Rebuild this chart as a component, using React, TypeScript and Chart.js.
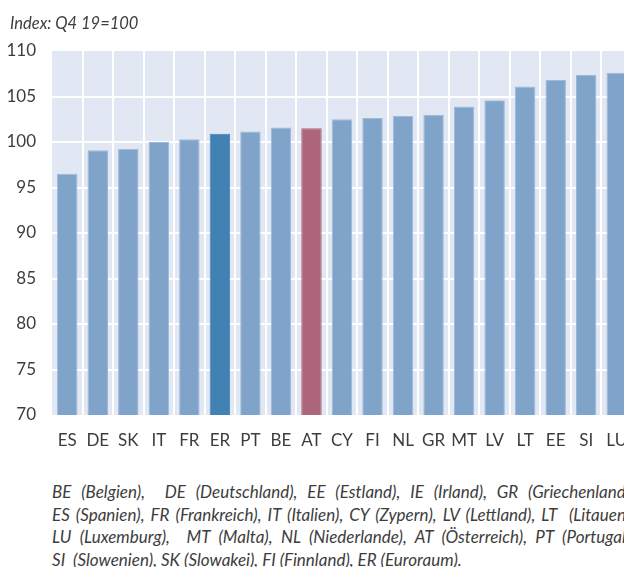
import React, { useEffect, useRef } from "react";
import { Chart, registerables } from "chart.js";

Chart.register(...registerables);

const categories = ["ES", "DE", "SK", "IT", "FR", "ER", "PT", "BE", "AT", "CY", "FI", "NL", "GR", "MT", "LV", "LT", "EE", "SI", "LU"];
const values = [96.5, 99.1, 99.25, 100.0, 100.3, 100.9, 101.15, 101.6, 101.5, 102.5, 102.65, 102.85, 103.0, 103.9, 104.6, 106.1, 106.8, 107.35, 107.6];
const yMin = 70;
const yMax = 110;
const yStep = 5;
const euroCode = "ER";
const austriaCode = "AT";
const unitLabel = "Index: Q4 19=100";
const footnoteLines = [
  "BE (Belgien),  DE (Deutschland), EE (Estland), IE (Irland), GR (Griechenland),",
  "ES (Spanien), FR (Frankreich), IT (Italien), CY (Zypern), LV (Lettland), LT  (Litauen),",
  "LU (Luxemburg),  MT (Malta), NL (Niederlande), AT (Österreich), PT (Portugal),",
  "SI  (Slowenien), SK (Slowakei), FI (Finnland), ER (Euroraum).",
];

const FONT = "Lato, 'Open Sans', sans-serif";
const TEXT = "#3d3d3d";

const bgPlugin = {
  id: "plotBg",
  beforeDraw(chart: any) {
    const { ctx, chartArea } = chart;
    if (!chartArea) return;
    ctx.save();
    ctx.fillStyle = "#e1e7f3";
    ctx.fillRect(chartArea.left, chartArea.top, chartArea.right - chartArea.left, chartArea.bottom - chartArea.top);
    ctx.restore();
  },
};

export default function App() {
  const ref = useRef<HTMLCanvasElement | null>(null);

  useEffect(() => {
    document.body.style.margin = "0";
    const canvas = ref.current;
    if (!canvas) return;
    const colors = categories.map((c) => (c === euroCode ? "#4281b4" : c === austriaCode ? "#ad6579" : "#7fa3c9"));
    const borders = categories.map((c) => (c === euroCode ? "#4281b4" : c === austriaCode ? "#ad6579" : "#9fb9d8"));
    const chart = new Chart(canvas, {
      type: "bar",
      data: {
        labels: categories,
        datasets: [
          {
            data: values,
            backgroundColor: colors,
            borderColor: borders,
            borderWidth: 1,
            categoryPercentage: 1,
            barPercentage: 0.67,
          },
        ],
      },
      options: {
        animation: false,
        responsive: false,
        devicePixelRatio: 1,
        layout: { padding: { top: 51, left: 0, right: 0, bottom: 0 } },
        plugins: { legend: { display: false }, tooltip: { enabled: false }, title: { display: false } },
        scales: {
          x: {
            border: { display: false },
            grid: {
              drawTicks: false,
              lineWidth: 2,
              color: (c: any) => (c.index === 0 ? "rgba(0,0,0,0)" : "#ffffff"),
            },
            ticks: { color: TEXT, font: { family: FONT, size: 17 }, padding: 15, maxRotation: 0, autoSkip: false },
            afterFit: (s: any) => {
              s.height = 45;
              s.paddingLeft = 0;
              s.paddingRight = 0;
            },
          },
          y: {
            min: yMin,
            max: yMax,
            border: { display: false },
            grid: {
              drawTicks: false,
              lineWidth: 2,
              color: (c: any) =>
                c.tick && (c.tick.value === yMin || c.tick.value === yMax) ? "rgba(0,0,0,0)" : "#ffffff",
            },
            ticks: { stepSize: yStep, color: TEXT, font: { family: FONT, size: 17 }, padding: 16 },
            afterFit: (s: any) => {
              s.width = 52;
            },
          },
        },
      },
      plugins: [bgPlugin],
    });
    return () => chart.destroy();
  }, []);

  return (
    <div style={{ position: "relative", width: 624, height: 567, overflow: "hidden", background: "#fff" }}>
      <canvas ref={ref} width={632} height={460} style={{ position: "absolute", left: 0, top: 0, width: 632, height: 460 }} />
      <div
        style={{
          position: "absolute",
          left: 10,
          top: 13,
          fontFamily: FONT,
          fontStyle: "italic",
          fontSize: 16.5,
          color: TEXT,
          whiteSpace: "nowrap",
        }}
      >
        {unitLabel}
      </div>
      <div style={{ position: "absolute", left: 52, top: 481, fontFamily: FONT, fontStyle: "italic", fontSize: 17, color: TEXT, lineHeight: "22.7px" }}>
        {footnoteLines.map((line, i) => (
          <div
            key={i}
            style={{
              width: 582,
              whiteSpace: "pre",
              textAlign: i < footnoteLines.length - 1 ? "justify" : "left",
              textAlignLast: i < footnoteLines.length - 1 ? "justify" : "left",
              height: "22.7px",
            }}
          >
            {line}
          </div>
        ))}
      </div>
    </div>
  );
}
